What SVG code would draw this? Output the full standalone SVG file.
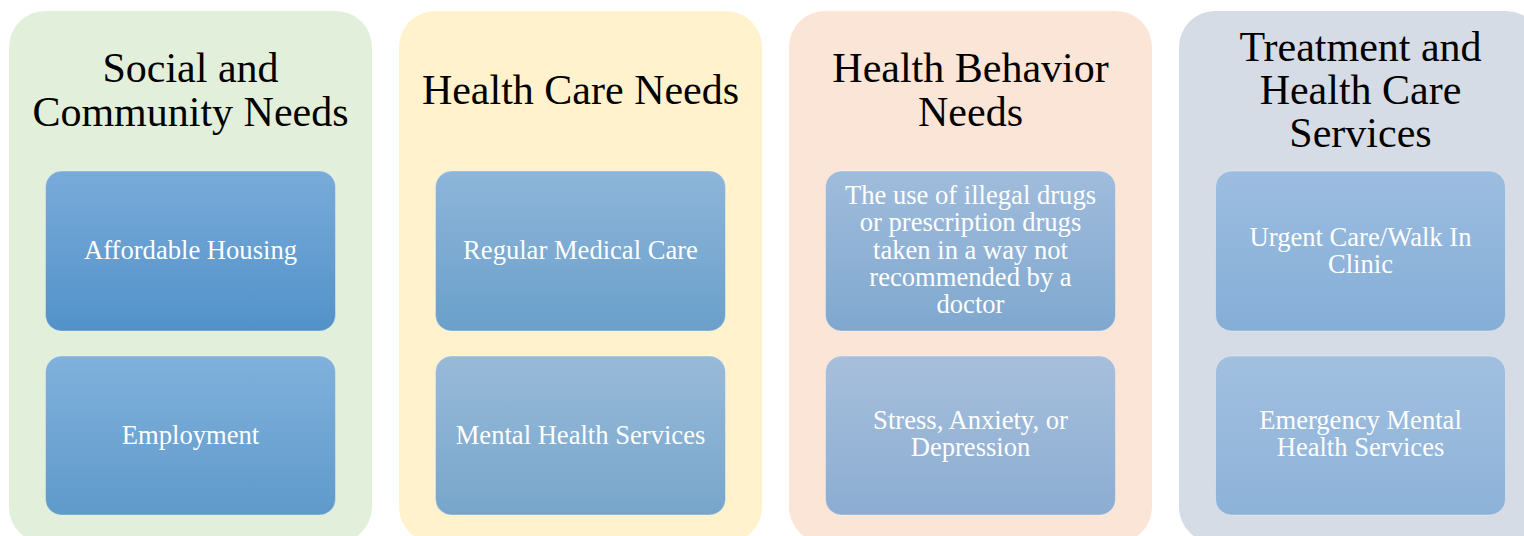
<svg xmlns="http://www.w3.org/2000/svg" width="1524" height="536" viewBox="0 0 1524 536">
  <defs>
    <linearGradient id="g11" x1="0" y1="0" x2="0" y2="1"><stop offset="0" stop-color="#79ABDA"/><stop offset="1" stop-color="#5292C9"/></linearGradient>
    <linearGradient id="g12" x1="0" y1="0" x2="0" y2="1"><stop offset="0" stop-color="#81B1DC"/><stop offset="1" stop-color="#5E9ACB"/></linearGradient>
    <linearGradient id="g21" x1="0" y1="0" x2="0" y2="1"><stop offset="0" stop-color="#8EB5DA"/><stop offset="1" stop-color="#6AA0CA"/></linearGradient>
    <linearGradient id="g22" x1="0" y1="0" x2="0" y2="1"><stop offset="0" stop-color="#98BAD9"/><stop offset="1" stop-color="#77A6CB"/></linearGradient>
    <linearGradient id="g31" x1="0" y1="0" x2="0" y2="1"><stop offset="0" stop-color="#A0BCDC"/><stop offset="1" stop-color="#7FA8CF"/></linearGradient>
    <linearGradient id="g32" x1="0" y1="0" x2="0" y2="1"><stop offset="0" stop-color="#A7BFDC"/><stop offset="1" stop-color="#8BADD2"/></linearGradient>
    <linearGradient id="g41" x1="0" y1="0" x2="0" y2="1"><stop offset="0" stop-color="#9CBDE0"/><stop offset="1" stop-color="#85AED7"/></linearGradient>
    <linearGradient id="g42" x1="0" y1="0" x2="0" y2="1"><stop offset="0" stop-color="#A1C0E0"/><stop offset="1" stop-color="#8DB2D8"/></linearGradient>
  </defs>
  <style>
    .panel { stroke: none; }
    .title { font-family: "Liberation Serif", "Times New Roman", serif; font-size: 42px; fill: #000; text-anchor: middle; }
    .box { stroke: #ffffff; stroke-opacity: 0.35; stroke-width: 1; }
    .label { font-family: "Liberation Serif", "Times New Roman", serif; font-size: 26.6px; fill: #fff; text-anchor: middle; }
  </style>
  <rect width="1524" height="536" fill="#ffffff"/>

  <!-- Column 1 -->
  <g id="col-social">
    <rect class="panel" x="9" y="11" width="363" height="532" rx="36" fill="#E2EFDA"/>
    <text class="title" x="190.5"><tspan x="190.5" y="82">Social and</tspan><tspan x="190.5" y="126">Community Needs</tspan></text>
  </g>
  <g id="node-housing">
    <rect class="box" x="45.5" y="171" width="290" height="160" rx="16" fill="url(#g11)"/>
    <text class="label" x="190.5" y="259">Affordable Housing</text>
  </g>
  <g id="node-employment">
    <rect class="box" x="45.5" y="356" width="290" height="159" rx="16" fill="url(#g12)"/>
    <text class="label" x="190.5" y="444">Employment</text>
  </g>

  <!-- Column 2 -->
  <g id="col-healthcare">
    <rect class="panel" x="399" y="11" width="363" height="532" rx="36" fill="#FFF2CC"/>
    <text class="title" x="580.5" y="104">Health Care Needs</text>
  </g>
  <g id="node-medical">
    <rect class="box" x="435.5" y="171" width="290" height="160" rx="16" fill="url(#g21)"/>
    <text class="label" x="580.5" y="259">Regular Medical Care</text>
  </g>
  <g id="node-mental">
    <rect class="box" x="435.5" y="356" width="290" height="159" rx="16" fill="url(#g22)"/>
    <text class="label" x="580.5" y="444">Mental Health Services</text>
  </g>

  <!-- Column 3 -->
  <g id="col-behavior">
    <rect class="panel" x="789" y="11" width="363" height="532" rx="36" fill="#FBE5D6"/>
    <text class="title" x="970.5"><tspan x="970.5" y="82">Health Behavior</tspan><tspan x="970.5" y="126">Needs</tspan></text>
  </g>
  <g id="node-drugs">
    <rect class="box" x="825.5" y="171" width="290" height="160" rx="16" fill="url(#g31)"/>
    <text class="label"><tspan x="970.5" y="204">The use of illegal drugs</tspan><tspan x="970.5" y="231.3">or prescription drugs</tspan><tspan x="970.5" y="258.6">taken in a way not</tspan><tspan x="970.5" y="285.9">recommended by a</tspan><tspan x="970.5" y="313.2">doctor</tspan></text>
  </g>
  <g id="node-stress">
    <rect class="box" x="825.5" y="356" width="290" height="159" rx="16" fill="url(#g32)"/>
    <text class="label"><tspan x="970.5" y="429">Stress, Anxiety, or</tspan><tspan x="970.5" y="456.3">Depression</tspan></text>
  </g>

  <!-- Column 4 -->
  <g id="col-treatment">
    <rect class="panel" x="1179" y="11" width="363" height="532" rx="36" fill="#D6DCE5"/>
    <text class="title"><tspan x="1360.5" y="61">Treatment and</tspan><tspan x="1360.5" y="104">Health Care</tspan><tspan x="1360.5" y="147">Services</tspan></text>
  </g>
  <g id="node-urgent">
    <rect class="box" x="1215.5" y="171" width="290" height="160" rx="16" fill="url(#g41)"/>
    <text class="label"><tspan x="1360.5" y="245.5">Urgent Care/Walk In</tspan><tspan x="1360.5" y="272.5">Clinic</tspan></text>
  </g>
  <g id="node-emergency">
    <rect class="box" x="1215.5" y="356" width="290" height="159" rx="16" fill="url(#g42)"/>
    <text class="label"><tspan x="1360.5" y="429">Emergency Mental</tspan><tspan x="1360.5" y="456.3">Health Services</tspan></text>
  </g>

  <!-- No connectors in this layout -->
  <g id="connectors"/>
</svg>
